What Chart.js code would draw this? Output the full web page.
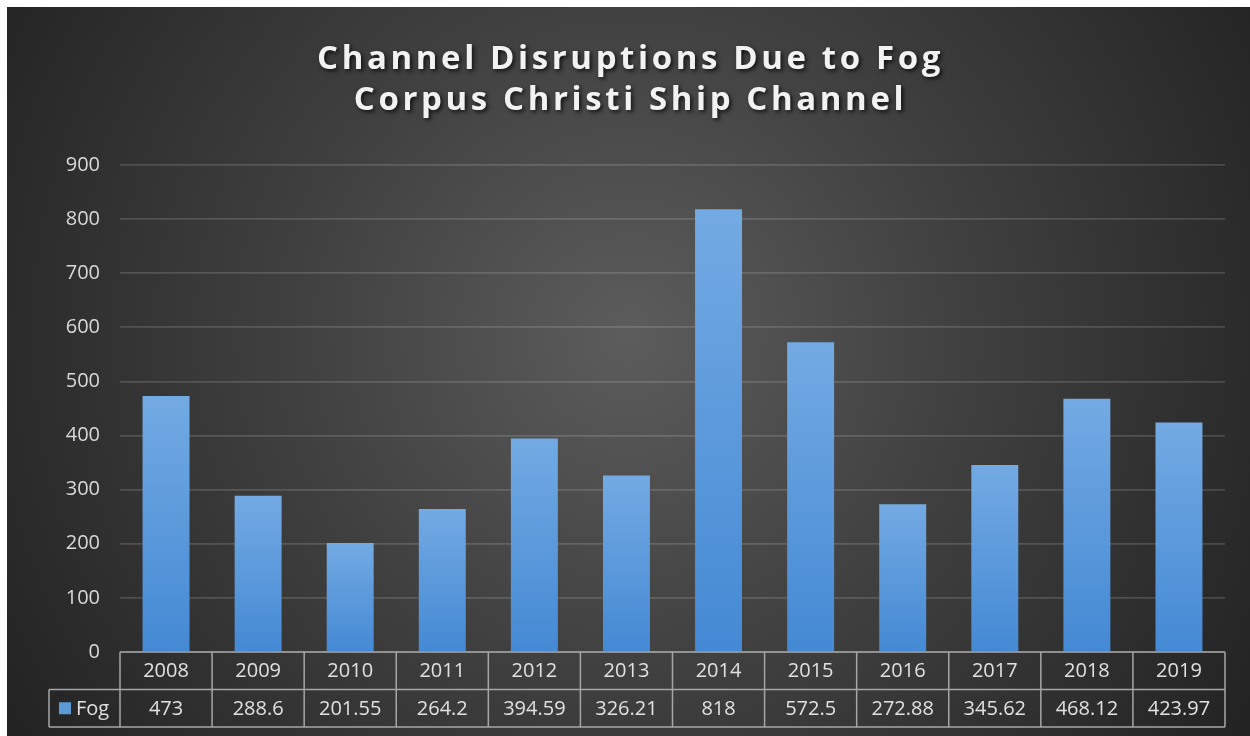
<!DOCTYPE html>
<html>
<head>
<meta charset="utf-8">
<title>Channel Disruptions Due to Fog</title>
<script src="https://cdn.jsdelivr.net/npm/chart.js@4.4.1/dist/chart.umd.min.js"></script>
<style>
    html, body { margin: 0; padding: 0; background: #ffffff; }
    .chart-wrap { position: absolute; left: 7px; top: 7px; width: 1243px; height: 729px; }
</style>
</head>
<body>
<div class="chart-wrap"><canvas id="fogChart"></canvas></div>
<script>
const titleLines = ['Channel Disruptions Due to Fog', 'Corpus Christi Ship Channel'];
const years = ['2008', '2009', '2010', '2011', '2012', '2013', '2014', '2015', '2016', '2017', '2018', '2019'];
const fogValues = [473, 288.6, 201.55, 264.2, 394.59, 326.21, 818, 572.5, 272.88, 345.62, 468.12, 423.97];
const seriesName = 'Fog';
const yMin = 0;
const yMax = 900;
const yStep = 100;

const FONT = "'Open Sans', 'Noto Sans', sans-serif";
const BAR_BLUE = '#5b9bd5';

// dark radial backdrop like the Excel style
const backgroundPlugin = {
    id: 'backdrop',
    beforeDraw(chart) {
        const { ctx, width, height } = chart;
        const cx = width / 2;
        const cy = height * 0.45;
        const g = ctx.createRadialGradient(cx, cy, 0, cx, cy, 740);
        g.addColorStop(0, '#5c5c5c');
        g.addColorStop(0.45, '#404040');
        g.addColorStop(1, '#222222');
        ctx.save();
        ctx.fillStyle = g;
        ctx.fillRect(0, 0, width, height);
        ctx.restore();
    }
};

const titlePlugin = {
    id: 'spacedTitle',
    afterDraw(chart) {
        const { ctx, width } = chart;
        ctx.save();
        ctx.font = `bold 33px ${FONT}`;
        ctx.letterSpacing = '3.6px';
        ctx.textAlign = 'center';
        ctx.textBaseline = 'alphabetic';
        ctx.fillStyle = '#f2f2f2';
        ctx.shadowColor = 'rgba(0, 0, 0, 0.75)';
        ctx.shadowBlur = 4;
        ctx.shadowOffsetX = 2;
        ctx.shadowOffsetY = 2;
        ctx.fillText(titleLines[0], width / 2 + 2, 62);
        ctx.fillText(titleLines[1], width / 2 + 2, 103);
        ctx.restore();
    }
};

// data table under the plot, columns follow the x scale
const dataTablePlugin = {
    id: 'dataTable',
    afterDraw(chart) {
        const { ctx, chartArea } = chart;
        const xScale = chart.scales.x;
        const colW = xScale.getPixelForValue(1) - xScale.getPixelForValue(0);
        const left = chartArea.left;
        const right = chartArea.right;
        const top = chartArea.bottom;
        const rowH = 37.5;
        const fogLeft = left - 71;

        ctx.save();
        ctx.strokeStyle = '#a6a6a6';
        ctx.lineWidth = 1.5;
        ctx.beginPath();
        ctx.moveTo(left, top); ctx.lineTo(right, top);
        ctx.moveTo(fogLeft, top + rowH); ctx.lineTo(right, top + rowH);
        ctx.moveTo(fogLeft, top + rowH * 2); ctx.lineTo(right, top + rowH * 2);
        ctx.moveTo(fogLeft, top + rowH); ctx.lineTo(fogLeft, top + rowH * 2);
        years.forEach((year, i) => {
            const xEdge = xScale.getPixelForValue(i) - colW / 2;
            ctx.moveTo(xEdge, top); ctx.lineTo(xEdge, top + rowH * 2);
        });
        ctx.moveTo(right, top); ctx.lineTo(right, top + rowH * 2);
        ctx.stroke();

        ctx.font = `20px ${FONT}`;
        ctx.fillStyle = '#e0e0e0';
        ctx.textAlign = 'center';
        ctx.textBaseline = 'middle';
        years.forEach((year, i) => {
            const cx = xScale.getPixelForValue(i);
            ctx.fillText(year, cx, top + rowH / 2 + 1);
            ctx.fillText(String(fogValues[i]), cx, top + rowH * 1.5 + 1);
        });

        ctx.fillStyle = BAR_BLUE;
        ctx.fillRect(fogLeft + 10, top + rowH * 1.5 - 6, 12, 12);
        ctx.fillStyle = '#e0e0e0';
        ctx.textAlign = 'left';
        ctx.fillText(seriesName, fogLeft + 27, top + rowH * 1.5 + 1);
        ctx.restore();
    }
};

function barGradient(context) {
    const chart = context.chart;
    if (!chart.chartArea) {
        return BAR_BLUE;
    }
    const yScale = chart.scales.y;
    const top = yScale.getPixelForValue(context.raw);
    const bottom = yScale.getPixelForValue(0);
    const g = chart.ctx.createLinearGradient(0, top, 0, bottom);
    g.addColorStop(0, '#73aae3');
    g.addColorStop(1, '#4489d4');
    return g;
}

new Chart(document.getElementById('fogChart'), {
    type: 'bar',
    data: {
        labels: years,
        datasets: [{
            label: seriesName,
            data: fogValues,
            backgroundColor: barGradient,
            borderWidth: 0,
            barPercentage: 0.51,
            categoryPercentage: 1
        }]
    },
    options: {
        responsive: true,
        maintainAspectRatio: false,
        animation: false,
        layout: { padding: { top: 158, right: 25, bottom: 84, left: 0 } },
        plugins: {
            legend: { display: false },
            title: { display: false },
            tooltip: { enabled: false }
        },
        scales: {
            x: {
                display: false,
                offset: true
            },
            y: {
                min: yMin,
                max: yMax,
                afterFit(scale) { scale.width = 113; },
                ticks: {
                    stepSize: yStep,
                    color: '#d9d9d9',
                    font: { family: FONT, size: 20 },
                    padding: 20
                },
                grid: {
                    color: 'rgba(255, 255, 255, 0.15)',
                    lineWidth: 1.8,
                    drawTicks: false
                },
                border: { display: false }
            }
        }
    },
    plugins: [backgroundPlugin, titlePlugin, dataTablePlugin]
});
</script>
</body>
</html>
